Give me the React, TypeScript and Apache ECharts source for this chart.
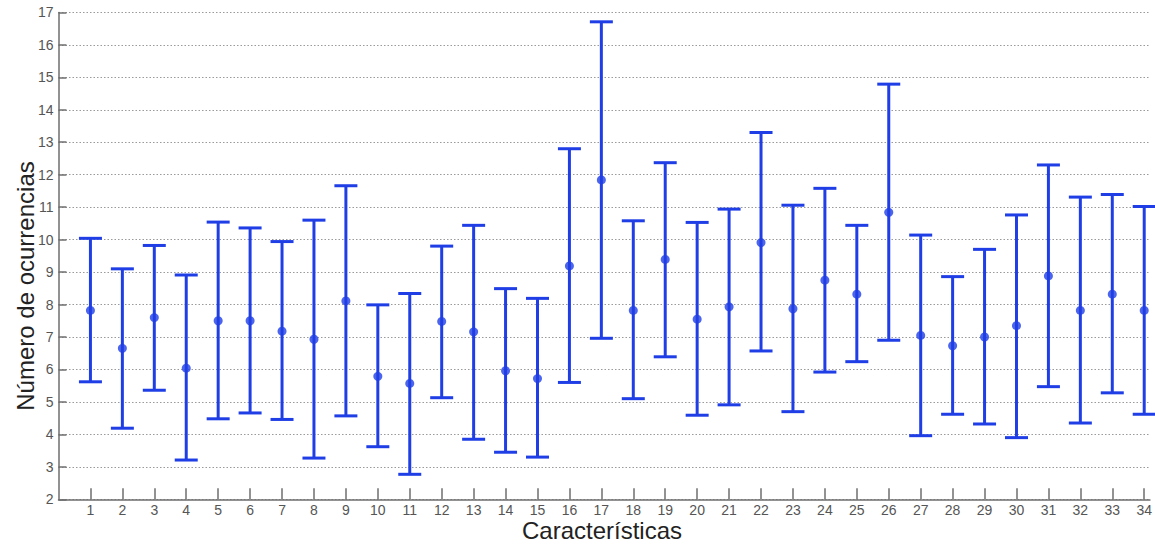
import React, { useEffect, useRef } from "react";
import * as echarts from "echarts";

const categories = [1,2,3,4,5,6,7,8,9,10,11,12,13,14,15,16,17,18,19,20,21,22,23,24,25,26,27,28,29,30,31,32,33,34];
const means = [7.82,6.65,7.6,6.04,7.5,7.5,7.18,6.93,8.11,5.79,5.57,7.48,7.16,5.96,5.72,9.19,11.84,7.82,9.39,7.55,7.93,9.91,7.87,8.75,8.32,10.84,7.05,6.73,7.0,7.35,8.88,7.82,8.32,7.82];
const lowers = [5.62,4.19,5.36,3.21,4.48,4.66,4.46,3.27,4.57,3.62,2.77,5.13,3.85,3.45,3.30,5.6,6.96,5.1,6.39,4.59,4.91,6.57,4.7,5.92,6.24,6.9,3.96,4.62,4.32,3.9,5.47,4.35,5.28,4.62];
const uppers = [10.04,9.1,9.82,8.91,10.54,10.36,9.94,10.6,11.66,7.99,8.34,9.8,10.44,8.49,8.19,12.8,16.71,10.58,12.37,10.53,10.94,13.3,11.06,11.58,10.44,14.79,10.14,8.86,9.7,10.76,12.3,11.31,11.39,11.02];
const yTicks = [2,3,4,5,6,7,8,9,10,11,12,13,14,15,16,17];

const BLUE = "#1f3ee6";
const FONT = "'Liberation Sans', Arial, sans-serif";

export default function App() {
  const ref = useRef<HTMLDivElement>(null);
  useEffect(() => {
    if (!ref.current) return;
    const chart = echarts.init(ref.current, null, { renderer: "svg" });
    const errData = categories.map((c, i) => [c, lowers[i], uppers[i]]);
    const meanData = categories.map((c, i) => [c, means[i]]);
    chart.setOption({
      animation: false,
      backgroundColor: "#ffffff",
      grid: { left: 58.5, right: 0, top: 12.4, bottom: 48.7, containLabel: false },
      xAxis: {
        type: "value",
        min: 0,
        max: 34.18,
        axisLine: { show: true, onZero: false, lineStyle: { color: "#6e6e6e", width: 1.5 } },
        axisTick: { show: true, inside: true, length: 11, customValues: categories, lineStyle: { color: "#6e6e6e", width: 1.5 } },
        axisLabel: { customValues: categories, color: "#555", fontSize: 14, fontFamily: FONT, margin: 4 },
        splitLine: { show: false },
      },
      yAxis: {
        type: "value",
        min: yTicks[0],
        max: yTicks[yTicks.length - 1],
        interval: 1,
        axisLine: { show: true, lineStyle: { color: "#6e6e6e", width: 1.5 } },
        axisTick: { show: true, inside: true, length: 8, lineStyle: { color: "#6e6e6e", width: 1.5 } },
        axisLabel: { color: "#555", fontSize: 14, fontFamily: FONT, margin: 5 },
        splitLine: { show: true, lineStyle: { color: "#9a9a9a", type: [1.5, 2], width: 1.2 } },
      },
      graphic: [
        {
          type: "text",
          x: 602,
          y: 542,
          style: { text: "Características", fontSize: 24, fill: "#222", fontFamily: FONT, textAlign: "center", textVerticalAlign: "bottom" },
        },
        {
          type: "text",
          x: 37,
          y: 286,
          rotation: Math.PI / 2,
          style: { text: "Número de ocurrencias", fontSize: 24, fill: "#222", fontFamily: FONT, textAlign: "center", textVerticalAlign: "bottom" },
        },
      ],
      series: [
        {
          type: "custom",
          data: errData,
          renderItem: (params: any, api: any) => {
            const x = api.value(0);
            const lo = api.coord([x, api.value(1)]);
            const hi = api.coord([x, api.value(2)]);
            const hw = 11.5;
            const style = { stroke: BLUE, lineWidth: 3 };
            return {
              type: "group",
              children: [
                { type: "line", shape: { x1: lo[0], y1: lo[1], x2: hi[0], y2: hi[1] }, style },
                { type: "line", shape: { x1: lo[0] - hw, y1: lo[1], x2: lo[0] + hw, y2: lo[1] }, style },
                { type: "line", shape: { x1: hi[0] - hw, y1: hi[1], x2: hi[0] + hw, y2: hi[1] }, style },
              ],
            };
          },
          z: 2,
        },
        {
          type: "scatter",
          data: meanData,
          symbol: "circle",
          symbolSize: 9,
          itemStyle: { color: BLUE },
          z: 3,
        },
      ],
    });
    return () => chart.dispose();
  }, []);
  return (
    <div
      ref={ref}
      style={{ position: "fixed", left: 0, top: 0, width: 1155, height: 548, background: "#fff" }}
    />
  );
}
